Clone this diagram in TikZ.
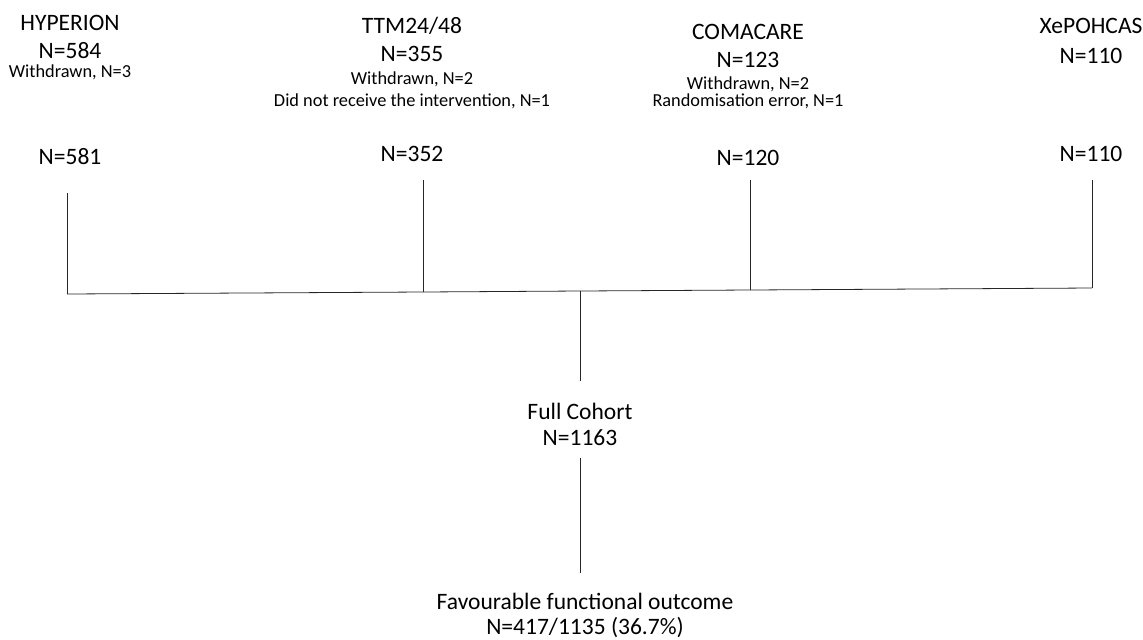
\documentclass[tikz,border=0pt]{standalone}
\usepackage{fontspec}
\setmainfont{Carlito}
\tikzset{
    big/.style = {anchor=base, inner sep=0pt, font=\fontsize{17.7}{20}\selectfont},
    small/.style = {anchor=base, inner sep=0pt, font=\fontsize{13.8}{16}\selectfont},
    link/.style = {line width=0.6pt, draw=black!85}
}
\begin{document}
\begin{tikzpicture}[x=0.7528pt, y=-0.7528pt]
        \useasboundingbox (0,0) rectangle (1143,639);
        % trials
        \node [big] (hyp) at (70,30) {HYPERION};
        \node [big] (hypN) at (70,58.6) {N=584};
        \node [small] (hypW) at (70,77.5) {Withdrawn, N=3};
        \node [big] (hypOut) at (70,164.6) {N=581};

        \node [big] (ttm) at (412,33.6) {TTM24/48};
        \node [big] (ttmN) at (412,61.6) {N=355};
        \node [small] (ttmW) at (412,84.5) {Withdrawn, N=2};
        \node [small] (ttmI) at (412,106) {Did not receive the intervention, N=1};
        \node [big] (ttmOut) at (412,161.6) {N=352};

        \node [big] (com) at (748,39.6) {COMACARE};
        \node [big] (comN) at (748,67.6) {N=123};
        \node [small] (comW) at (748,89.5) {Withdrawn, N=2};
        \node [small] (comR) at (748,106.5) {Randomisation error, N=1};
        \node [big] (comOut) at (748,165.6) {N=120};

        \node [big] (xep) at (1091,33.6) {XePOHCAS};
        \node [big] (xepN) at (1091,63.6) {N=110};
        \node [big] (xepOut) at (1091,161.6) {N=110};

        % merged cohort
        \node [big] (full) at (580,419.6) {Full Cohort};
        \node [big] (fullN) at (580,445.6) {N=1163};
        \node [big] (fav) at (585,609.6) {Favourable functional outcome};
        \node [big] (favN) at (585,634.6) {N=417/1135 (36.7\%)};

        \coordinate (hypTop) at (67,193);
        \coordinate (ttmTop) at (423,180);
        \coordinate (comTop) at (750,180);
        \coordinate (xepTop) at (1092,180);
        \coordinate (hypJ) at (67,294);
        \coordinate (ttmJ) at (423,292);
        \coordinate (midJ) at (580,291);
        \coordinate (comJ) at (750,290);
        \coordinate (xepJ) at (1092,288);
        \coordinate (midBot) at (580,381);
        \coordinate (fullBot) at (580,458);
        \coordinate (favTop) at (580,573);

        \draw [link] (hypTop) -- (hypJ);
        \draw [link] (ttmTop) -- (ttmJ);
        \draw [link] (comTop) -- (comJ);
        \draw [link] (xepTop) -- (xepJ);
        \draw [link] (hypJ) -- (ttmJ) -- (midJ) -- (comJ) -- (xepJ);
        \draw [link] (midJ) -- (midBot);
        \draw [link] (fullBot) -- (favTop);
    \end{tikzpicture}
\end{document}
